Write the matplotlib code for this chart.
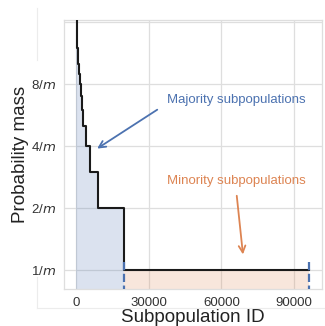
import matplotlib
matplotlib.use("Agg")
import matplotlib.pyplot as plt
from matplotlib.lines import Line2D
import numpy as np

# Step levels of the probability mass (in units of 1/m) and the subpopulation ID where each level ends
majority_levels = [24, 20, 16, 14, 12, 10, 9, 8, 7, 6, 5, 4, 3, 2]
majority_ends = [100, 250, 450, 650, 900, 1200, 1500, 1900, 2400, 3000, 4100, 5750, 9300, 20000]
minority_level = 1
minority_end = 96000

ytick_values = [1, 2, 4, 8]
ytick_labels = ["1/$m$", "2/$m$", "4/$m$", "8/$m$"]
xtick_values = [0, 30000, 60000, 90000]

BLUE = "#4C72B0"
ORANGE = "#DD8452"
GRID = "#dedede"

plt.rcParams["font.family"] = ["Liberation Sans", "DejaVu Sans"]
plt.rcParams["mathtext.fontset"] = "dejavusans"

fig = plt.figure(figsize=(3.25, 3.26), dpi=100)
ax = fig.add_axes([0.197, 0.1135, 0.794, 0.825])

y_bottom, y_top = 0.81, 16.4

# Majority region: step curve from ID 0 to 20000
maj_x = np.array([0] + majority_ends)
maj_y = np.array(majority_levels + [majority_levels[-1]])
ax.fill_between(maj_x, maj_y, y_bottom, step="post", color=BLUE, alpha=0.2, lw=0)

# Minority region: flat at 1/m
min_x = np.array([majority_ends[-1], minority_end])
min_y = np.array([minority_level, minority_level])
ax.fill_between(min_x, min_y, y_bottom, step="post", color=ORANGE, alpha=0.2, lw=0)

# Outline of the whole distribution
line_x = np.concatenate([maj_x[:-1], [majority_ends[-1], minority_end]])
line_y = np.concatenate([maj_y[:-1], [minority_level, minority_level]])
ax.step(line_x, line_y, where="post", color="#1a1a1a", lw=1.5, zorder=3)

# Boundary markers of the minority block
for xb in (majority_ends[-1], minority_end):
    ax.plot([xb, xb], [1.09, y_bottom], color=BLUE, lw=1.6, ls="--", zorder=4)

ax.set_yscale("log", base=2)
ax.set_ylim(y_bottom, y_top)
ax.set_xlim(-4900, 101500)
ax.set_yticks(ytick_values)
ax.set_yticklabels(ytick_labels)
ax.minorticks_off()
ax.set_xticks(xtick_values)
ax.set_xticklabels([str(v) for v in xtick_values])
ax.tick_params(length=0, labelsize=9.5, labelcolor="#333333", pad=6)

ax.grid(True, color=GRID, lw=0.9)
ax.axhline(16, color=GRID, lw=0.9, zorder=0)
ax.set_axisbelow(True)
for s in ax.spines.values():
    s.set_color(GRID)
    s.set_linewidth(0.9)

ax.set_xlabel("Subpopulation ID", fontsize=13.5, color="#222222", labelpad=0)
ax.set_ylabel("Probability mass", fontsize=13.5, color="#222222", labelpad=1)

# Annotations
ax.annotate("", xy=(7800, 3.83), xytext=(34500, 6.12),
            arrowprops=dict(arrowstyle="->", color=BLUE, lw=1.3, mutation_scale=12))
ax.text(37400, 6.69, "Majority subpopulations", color=BLUE, fontsize=9.5,
        ha="left", va="center")
ax.annotate("", xy=(69000, 1.156), xytext=(66200, 2.37),
            arrowprops=dict(arrowstyle="->", color=ORANGE, lw=1.3, mutation_scale=12))
ax.text(37400, 2.70, "Minority subpopulations", color=ORANGE, fontsize=9.5,
        ha="left", va="center")

# Faint outer frame lines (interrupted where the tick labels sit)
fig.add_artist(Line2D([0.114, 0.114], [0.975, 0.816], transform=fig.transFigure,
                      color="#ececec", lw=0.8))
fig.add_artist(Line2D([0.114, 0.114], [0.150, 0.055], transform=fig.transFigure,
                      color="#ececec", lw=0.8))
fig.add_artist(Line2D([0.114, 1.0], [0.055, 0.055], transform=fig.transFigure,
                      color="#ececec", lw=0.8))

fig.savefig("out.png", dpi=100)
